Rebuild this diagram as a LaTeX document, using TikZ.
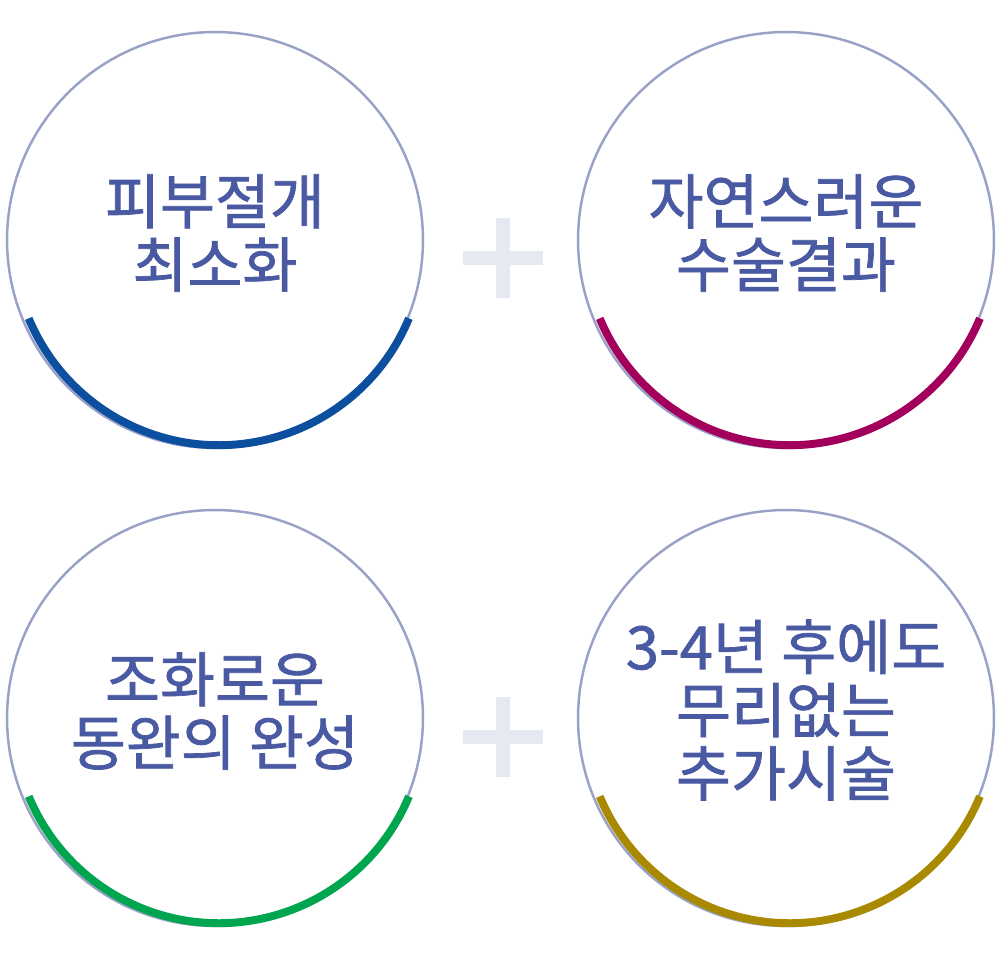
\documentclass[tikz,border=0pt]{standalone}
\usepackage{fontspec}
\newfontfamily\kr[FakeBold=1.2]{Noto Sans CJK KR}
\usetikzlibrary{positioning}
\definecolor{ring}{HTML}{99A2C6}
\definecolor{txt}{HTML}{4A5AA2}
\definecolor{plusc}{HTML}{E6E9F2}
\definecolor{cblue}{HTML}{0B4F9E}
\definecolor{cmag}{HTML}{A3005E}
\definecolor{cgreen}{HTML}{00A64F}
\definecolor{cgold}{HTML}{A88900}
\begin{document}
\begin{tikzpicture}[x=0.02cm,y=-0.02cm,
    ringnode/.style={circle, draw=ring, line width=1.4pt, minimum size=8.32cm, inner sep=0pt},
    label/.style={font=\kr\fontsize{34}{36}\selectfont, text=txt, align=center},
    plusbar/.style={plusc, line width=0.28cm}
]
    \useasboundingbox (0,0) rectangle (1000,972);

    % circles
    \node[ringnode] (c1) at (215,240) {};
    \node[ringnode] (c2) at (786,240) {};
    \node[ringnode] (c3) at (215,718) {};
    \node[ringnode] (c4) at (786,718) {};

    % coloured arcs
    \foreach \c/\col in {c1/cblue, c2/cmag, c3/cgreen, c4/cgold}
        \draw[\col, line width=4.5pt] (\c.-22.6) arc[start angle=-22.6, end angle=-157.4, radius=4.12cm];

    % texts
    \node[label] (t1) at (215,233) {피부절개\\최소화};
    \node[label] (t2) at (786,233) {자연스러운\\수술결과};
    \node[label] (t3) at (215,711) {조화로운\\동완의 완성};
    \node[label] (t4) at (786,710) {3-4년 후에도\\무리없는\\추가시술};

    % plus signs
    \foreach \y [count=\i] in {258,737} {
        \coordinate (p\i) at (503,\y);
        \draw[plusbar] ([xshift=-0.8cm]p\i) -- ([xshift=0.8cm]p\i);
        \draw[plusbar] ([yshift=-0.8cm]p\i) -- ([yshift=0.8cm]p\i);
    }
\end{tikzpicture}
\end{document}
